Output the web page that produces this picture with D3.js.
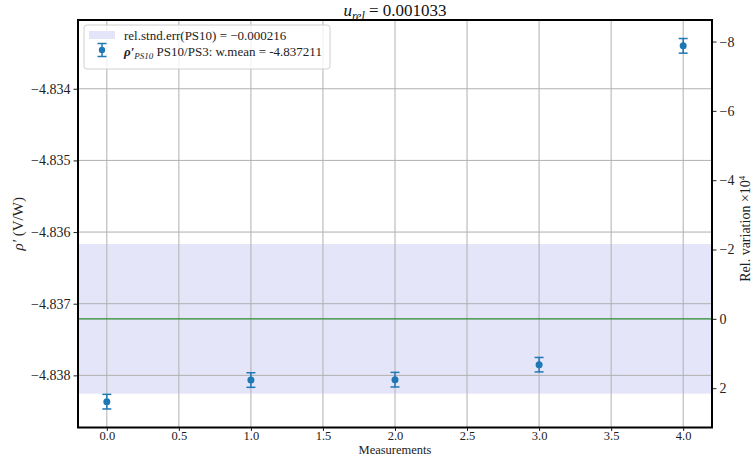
<!DOCTYPE html>
<html><head><meta charset="utf-8">
<script src="https://cdn.jsdelivr.net/npm/d3@7"></script>
<style>
body{margin:0;background:#fff;}
svg text{font-family:"Liberation Serif","Times New Roman","DejaVu Serif",serif !important;}
</style></head>
<body>
<svg id="chart" width="753" height="457"></svg>
<script>
// ---- data ----
const measIdx = [0, 1, 2, 3, 4];
const rhoValues = [-4.838367, -4.838065, -4.838060, -4.837851, -4.833401];
const rhoErrors = [0.000102, 0.000102, 0.000102, 0.000101, 0.000102];
const wMean = -4.837211;
const relStdErr = -0.000216;
const uRel = "0.001033";
const xTicks = [0, 0.5, 1.0, 1.5, 2.0, 2.5, 3.0, 3.5, 4.0];
const yTicks = [-4.834, -4.835, -4.836, -4.837, -4.838];
const relTicks = [-8, -6, -4, -2, 0, 2];

// ---- layout ----
const W = 753, H = 457;
const L = 78, R = 712, T = 20, B = 427.5;
const svg = d3.select("#chart");

const x = d3.scaleLinear().domain([-0.2, 4.2]).range([L, R]);
const lo = d3.min(rhoValues.map((v, i) => v - rhoErrors[i]));
const hi = d3.max(rhoValues.map((v, i) => v + rhoErrors[i]));
const pad = (hi - lo) * 0.05;
const y = d3.scaleLinear().domain([lo - pad, hi + pad]).range([B, T]);
const rel = v => (v - wMean) / wMean * 1e4;
const yR = d3.scaleLinear().domain([rel(hi + pad), rel(lo - pad)]).range([T, B]);

const fmtMinus = s => s.replace("-", "\u2212");

// band
const half = Math.abs(relStdErr * wMean);
svg.append("rect").attr("x", L).attr("width", R - L)
  .attr("y", y(wMean + half)).attr("height", y(wMean - half) - y(wMean + half))
  .attr("fill", "#e5e5fa");

// grid
const g = svg.append("g");
xTicks.forEach(t => g.append("line").attr("x1", x(t)).attr("x2", x(t)).attr("y1", T).attr("y2", B)
  .attr("stroke", "#b0b0b0").attr("stroke-width", 1));
yTicks.forEach(t => g.append("line").attr("x1", L).attr("x2", R).attr("y1", y(t)).attr("y2", y(t))
  .attr("stroke", "#b0b0b0").attr("stroke-width", 1));

// mean line
svg.append("line").attr("x1", L).attr("x2", R).attr("y1", y(wMean)).attr("y2", y(wMean))
  .attr("stroke", "#2a8a2a").attr("stroke-width", 1.2);

// error bars
const col = "#1f77b4";
const eb = svg.append("g");
measIdx.forEach((m, i) => {
  const cx = x(m), v = rhoValues[i], e = rhoErrors[i];
  eb.append("line").attr("x1", cx).attr("x2", cx).attr("y1", y(v + e)).attr("y2", y(v - e)).attr("stroke", col).attr("stroke-width", 1.5);
  [v + e, v - e].forEach(c => eb.append("line").attr("x1", cx - 4.5).attr("x2", cx + 4.5).attr("y1", y(c)).attr("y2", y(c)).attr("stroke", col).attr("stroke-width", 1.5));
  eb.append("circle").attr("cx", cx).attr("cy", y(v)).attr("r", 3.5).attr("fill", col);
});

// axes
const fs = 14;
const xAxis = svg.append("g").attr("transform", `translate(0,${B})`)
  .call(d3.axisBottom(x).tickValues(xTicks).tickFormat(d3.format(".1f")).tickSize(3.5).tickPadding(0));
const yAxis = svg.append("g").attr("transform", `translate(${L},0)`)
  .call(d3.axisLeft(y).tickValues(yTicks).tickFormat(d => fmtMinus(d3.format(".3f")(d))).tickSize(4.5).tickPadding(3));
const yAxisR = svg.append("g").attr("transform", `translate(${R},0)`)
  .call(d3.axisRight(yR).tickValues(relTicks).tickFormat(d => fmtMinus(String(d))).tickSize(4.5).tickPadding(3));
[xAxis, yAxis, yAxisR].forEach(a => {
  a.select(".domain").remove();
  a.selectAll("text").attr("font-size", fs).attr("fill", "#222");
  a.selectAll("line").attr("stroke", "#222");
});
xAxis.selectAll("text").attr("font-size", 12.5);

// frame
svg.append("rect").attr("x", L).attr("y", T).attr("width", R - L).attr("height", B - T)
  .attr("fill", "none").attr("stroke", "#000").attr("stroke-width", 2);

// labels
svg.append("text").attr("x", (L + R) / 2).attr("y", 454).attr("text-anchor", "middle").attr("font-size", 12.5).attr("fill", "#222").text("Measurements");

const yl = svg.append("text").attr("transform", `translate(23,${(T + B) / 2}) rotate(-90)`).attr("text-anchor", "middle").attr("font-size", 15).attr("fill", "#222");
yl.append("tspan").attr("font-style", "italic").text("\u03C1\u2032");
yl.append("tspan").text("  (V/W)");

const rl = svg.append("text").attr("transform", `translate(750,${(T + B) / 2 + 5}) rotate(-90)`).attr("text-anchor", "middle").attr("font-size", 14).attr("fill", "#222");
rl.append("tspan").text("Rel. variation \u00D710");
rl.append("tspan").attr("font-size", 9).attr("dy", -5).text("4");

const title = svg.append("text").attr("x", (L + R) / 2).attr("y", 16).attr("text-anchor", "middle").attr("font-size", 17).attr("fill", "#111");
title.append("tspan").attr("font-style", "italic").text("u");
title.append("tspan").attr("font-style", "italic").attr("font-size", 12).attr("dy", 4).text("rel");
title.append("tspan").attr("dy", -4).text(" = " + uRel);

// legend
const lg = svg.append("g");
lg.append("rect").attr("x", 84).attr("y", 25).attr("width", 246).attr("height", 44).attr("rx", 3)
  .attr("fill", "rgba(255,255,255,0.8)").attr("stroke", "#d0d0d0").attr("stroke-width", 1);
lg.append("rect").attr("x", 89).attr("y", 31).attr("width", 26).attr("height", 8).attr("fill", "#e5e5fa");
lg.append("text").attr("x", 124).attr("y", 40).attr("font-size", 13).attr("fill", "#222")
  .text("rel.stnd.err(PS10) = " + fmtMinus(String(relStdErr)));
const lx = 102, ly = 50;
lg.append("line").attr("x1", lx).attr("x2", lx).attr("y1", ly - 6.5).attr("y2", ly + 6.5).attr("stroke", col).attr("stroke-width", 1.5);
[ly - 6.5, ly + 6.5].forEach(c => lg.append("line").attr("x1", lx - 4.5).attr("x2", lx + 4.5).attr("y1", c).attr("y2", c).attr("stroke", col).attr("stroke-width", 1.5));
lg.append("circle").attr("cx", lx).attr("cy", ly).attr("r", 3.2).attr("fill", col);
const t2 = lg.append("text").attr("x", 124).attr("y", 56).attr("font-size", 13).attr("fill", "#222");
t2.append("tspan").attr("font-style", "italic").attr("font-weight", "bold").text("\u03C1\u2032");
t2.append("tspan").attr("font-style", "italic").attr("font-size", 9).attr("dy", 3).text("PS10");
t2.append("tspan").attr("dy", -3).text(" PS10/PS3: w.mean = " + wMean);
</script>
</body></html>
